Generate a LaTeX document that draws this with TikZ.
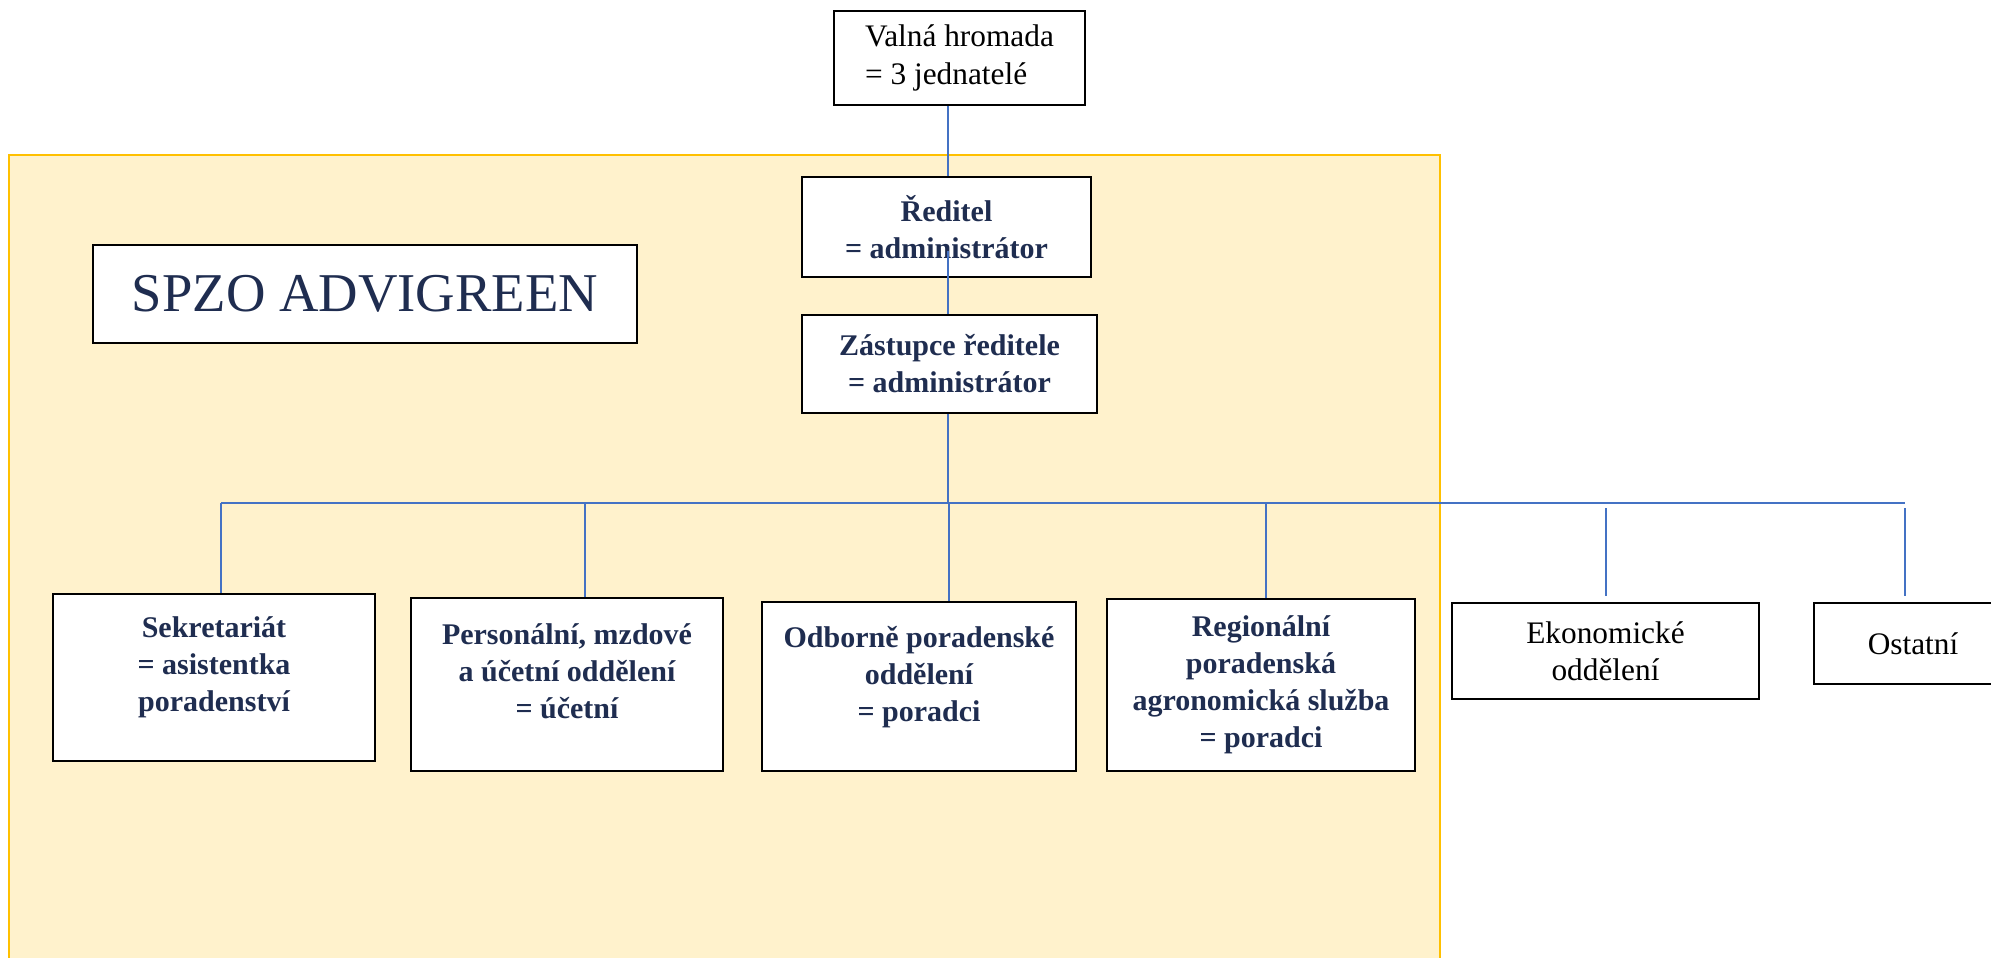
\documentclass[tikz,border=0pt]{standalone}
\usepackage{fontspec}
\setmainfont{Liberation Serif}
\usetikzlibrary{positioning}

\definecolor{navy}{HTML}{1F2D50}
\definecolor{lineblue}{HTML}{4472C4}
\definecolor{paleyellow}{HTML}{FFF2CC}
\definecolor{gold}{HTML}{FFC000}

\begin{document}
\begin{tikzpicture}[
        x=0.75pt, y=-0.75pt,
        size/.style 2 args={minimum width=#1*0.75pt, minimum height=#2*0.75pt},
        unit/.style={draw=black, fill=white, rectangle, line width=1.5pt, align=center, inner sep=0pt, text=navy, font=\bfseries\fontsize{22.5}{27.75}\selectfont},
        plain/.style={draw=black, fill=white, rectangle, line width=1.5pt, align=center, inner sep=0pt, text=black, font=\fontsize{23.5}{28}\selectfont},
        link/.style={draw=lineblue, line width=0.9pt}
    ]
    \useasboundingbox (0,0) rectangle (1991,957);
    \clip (0,0) rectangle (1991,957);

    % Company area
    \draw[draw=gold, line width=2.2pt, fill=paleyellow] (9,155) rectangle (1440,975);

    % Nodes
    \node[plain, size={251}{94}, align=left] (valna) at (959.5,58) {Valná hromada\\= 3 jednatelé};
    \node[unit, size={289}{100}] (reditel) at (946.5,227) {Ředitel\\= administrátor};
    \node[unit, size={295}{98}] (zastupce) at (949.5,364) {Zástupce ředitele\\= administrátor};
    \node[plain, size={544}{98}, text=navy, font=\fontsize{41}{48}\selectfont] (spzo) at (365,294) {SPZO ADVIGREEN};

    \node[unit, size={322}{167}] (sekr) at (214,677.5) {Sekretariát\\= asistentka\\poradenství\\[-7.75pt]\mbox{}};
    \node[unit, size={312}{173}] (pers) at (567,684.5) {Personální, mzdové\\a účetní oddělení\\= účetní\\[-7.5pt]\mbox{}};
    \node[unit, size={314}{169}] (odb) at (919,686.5) {Odborně poradenské\\oddělení\\= poradci\\[-9.25pt]\mbox{}};
    \node[unit, size={308}{172}] (reg) at (1261,685) {Regionální\\poradenská\\agronomická služba\\= poradci};
    \node[plain, size={307}{96}] (eko) at (1605.5,651) {Ekonomické\\oddělení};
    \node[plain, size={198}{81}] (ost) at (1913,643.5) {Ostatní};

    % Spine and bus
    \coordinate (spine) at (948,0);
    \coordinate (busL) at (221,503);
    \coordinate (busR) at (1905,503);
    \coordinate (d2) at (585,503);
    \coordinate (d3) at (949,503);
    \coordinate (d4) at (1266,503);
    \coordinate (d5) at (1606,503);

    \draw[link] (spine |- valna.south) -- (spine |- reditel.north);
    \draw[link] ([yshift=20pt]spine |- reditel.south) -- (spine |- zastupce.north);
    \draw[link] (spine |- zastupce.south) -- (spine |- busL);
    \draw[link] (busL) -- (busR);

    % Drops to departments
    \draw[link] (busL) -- (busL |- sekr.north);
    \draw[link] (d2) -- (d2 |- pers.north);
    \draw[link] (d3) -- (d3 |- odb.north);
    \draw[link] (d4) -- (d4 |- reg.north);
    \draw[link, shorten <=3.75pt, shorten >=4.5pt] (d5) -- (d5 |- eko.north);
    \draw[link, shorten <=3.75pt, shorten >=4.5pt] (busR) -- (busR |- ost.north);
\end{tikzpicture}
\end{document}
